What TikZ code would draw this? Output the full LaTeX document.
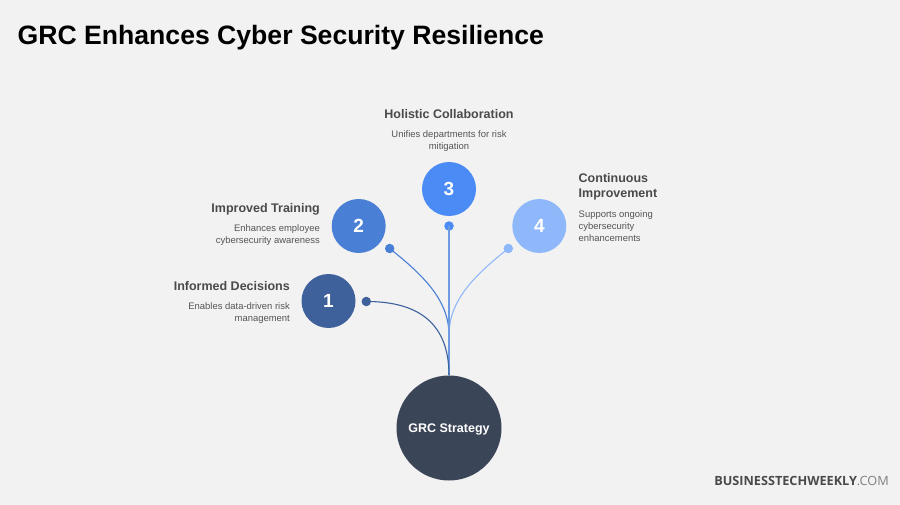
\documentclass[tikz,border=0pt]{standalone}
\usepackage{fontspec}
\setmainfont{Liberation Sans}
\newfontfamily\wmfont{Open Sans}
\definecolor{bgc}{HTML}{F2F2F2}
\definecolor{cA}{HTML}{3E619B}
\definecolor{cB}{HTML}{4A7FD6}
\definecolor{cC}{HTML}{4A8BF5}
\definecolor{cD}{HTML}{8FB8FA}
\definecolor{cLine}{HTML}{6C9BE2}
\definecolor{cHub}{HTML}{3A4558}
\definecolor{headc}{HTML}{4A4A4A}
\definecolor{bodyc}{HTML}{555555}
\tikzset{
  numc/.style={circle,fill=#1,minimum size=54pt,inner sep=0pt,text=white,font=\fontsize{19}{20}\selectfont\bfseries},
  dotc/.style={circle,fill=#1,minimum size=9.5pt,inner sep=0pt},
  head/.style={inner sep=0pt,text=headc,font=\fontsize{12.5}{15}\selectfont\bfseries},
  body/.style={inner sep=0pt,text=bodyc,font=\fontsize{9.45}{12.2}\selectfont},
  link/.style={draw=#1,line width=1.1pt}
}
\begin{document}
\begin{tikzpicture}[x=1pt,y=-1pt]
\path[use as bounding box,fill=bgc] (0,0) rectangle (900,505);
\node[anchor=base west,inner sep=0pt,font=\fontsize{26.6}{30}\selectfont\bfseries] (title) at (17.5,44.5) {GRC Enhances Cyber Security Resilience};

\node[numc=cA] (n1) at (328.5,301) {1};
\node[numc=cB] (n2) at (358.7,226) {2};
\node[numc=cC] (n3) at (449,189) {3};
\node[numc=cD] (n4) at (539.3,226) {4};
\node[circle,fill=cHub,minimum size=105pt,inner sep=0pt] (hub) at (449,428) {};
\node[inner sep=0pt,text=white,font=\fontsize{12.5}{15}\selectfont\bfseries] (hubtext) at (449,429) {GRC Strategy};

\node[dotc=cA] (d1) at (366.3,301.5) {};
\node[dotc=cB] (d2) at (389.7,248.5) {};
\node[dotc=cC] (d3) at (449,226) {};
\node[dotc=cD] (d4) at (508.3,248.5) {};
\coordinate (mergeA) at (449,335);

\draw[link=cD] (d4.center) .. controls (475,275) and (449,300) .. (mergeA) -- (hub.north);
\draw[link=cB] (d2.center) .. controls (423,275) and (449,300) .. (mergeA) -- (hub.north);
\draw[link=cLine] (d3.center) -- (hub.north);
\draw[link=cA] (d1.center) .. controls (412,301.5) and (449,318) .. (hub.north);

\node[head,anchor=base east] (h1) at (290,290.5) {Informed Decisions};
\node[body,anchor=north east,align=right] (b1) at (290,302) {Enables data-driven risk\\management};
\node[head,anchor=base east] (h2) at (320,212.5) {Improved Training};
\node[body,anchor=north east,align=right] (b2) at (320,224) {Enhances employee\\cybersecurity awareness};
\node[head,anchor=base] (h3) at (449,118.5) {Holistic Collaboration};
\node[body,anchor=north,align=center] (b3) at (449,130) {Unifies departments for risk\\mitigation};
\node[head,anchor=north west,align=left,font=\fontsize{12.5}{15}\selectfont\bfseries] (h4) at (578.5,173) {Continuous\\Improvement};
\node[body,anchor=north west,align=left] (b4) at (578.5,210.5) {Supports ongoing\\cybersecurity\\enhancements};

\node[anchor=base east,inner sep=0pt,text=headc,font=\fontsize{12.7}{15}\selectfont] (wm) at (889,485) {{\wmfont\bfseries BUSINESSTECHWEEKLY}{\wmfont\color{gray}.COM}};
\end{tikzpicture}
\end{document}
